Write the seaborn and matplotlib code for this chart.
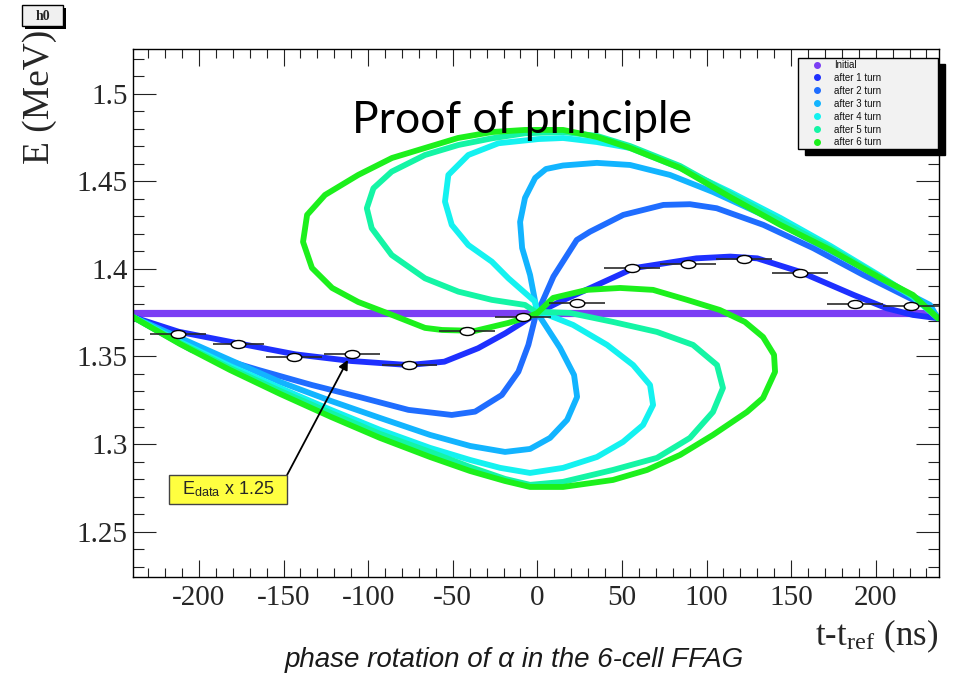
import matplotlib
matplotlib.use("Agg")
import numpy as np
import pandas as pd
import matplotlib.pyplot as plt
import seaborn as sns
from matplotlib.path import Path
from matplotlib.transforms import Affine2D
from matplotlib.lines import Line2D
from matplotlib.patches import Rectangle
from matplotlib.ticker import MultipleLocator, FuncFormatter

# ---------------- data: t - t_ref (ns) and E (MeV) ----------------
series_names = ["Initial", "after 1 turn", "after 2 turn", "after 3 turn",
                "after 4 turn", "after 5 turn", "after 6 turn"]
series_colors = ["#7b3ef4", "#1e30ff", "#1f6dff", "#12b4ff",
                 "#14f2f0", "#14f5a5", "#1cf01c"]

t_init = [-239.0, 232.0]
E_init = [1.375, 1.375]

t_turn1 = [-239.0, -212.0, -177.0, -143.0, -110.0, -76.0, -55.0, -35.0, -19.0, -4.3, 0.0,
           13.4, 33.0, 57.0, 94.0, 114.0, 130.0, 155.0, 187.0, 206.5, 222.0, 236.8]
E_turn1 = [1.3725, 1.3641, 1.3575, 1.3512, 1.3474, 1.3451, 1.3470, 1.3547, 1.3632, 1.3721, 1.3748,
           1.3813, 1.3898, 1.4004, 1.4060, 1.4070, 1.4060, 1.3984, 1.3851, 1.3775, 1.3737, 1.3718]

t_turn2 = [-239.0, -204.3, -164.9, -133.3, -105.8, -76.2, -50.6, -36.8, -21.0, -11.2, -5.3, -1.4, 0.0,
           9.5, 23.3, 31.1, 50.8, 74.5, 90.2, 106.0, 133.6, 163.1, 192.7, 212.4, 232.1, 236.8]
E_turn2 = [1.3725, 1.3537, 1.3423, 1.3337, 1.3270, 1.3195, 1.3166, 1.3185, 1.3280, 1.3413, 1.3566, 1.3718, 1.3748,
           1.3956, 1.4165, 1.4212, 1.4308, 1.4365, 1.4369, 1.4346, 1.4251, 1.4118, 1.3965, 1.3870, 1.3775, 1.3718]

t_turn3 = [-239.0, -211.2, -181.7, -152.0, -122.0, -93.0, -63.4, -39.7, -19.1, -4.3, 7.5, 17.6, 23.5,
           21.7, 13.4, 4.6, 0.0,
           -4.3, -9.0, -10.2, -7.3, -1.3, 5.1, 15.2, 35.2, 54.8, 78.4, 103.8, 133.4, 163.1, 192.5,
           212.6, 232.1, 236.8]
E_turn3 = [1.3725, 1.3606, 1.3480, 1.3354, 1.3246, 1.3149, 1.3052, 1.2989, 1.2955, 1.2972, 1.3035, 1.3138, 1.3269,
           1.3394, 1.3549, 1.3680, 1.3748,
           1.3965, 1.4119, 1.4268, 1.4405, 1.4519, 1.4570, 1.4590, 1.4605, 1.4593, 1.4536, 1.4439, 1.4308, 1.4154, 1.4005,
           1.3891, 1.3794, 1.3718]

t_turn4 = [-239.0, -211.2, -181.7, -152.0, -122.0, -93.0, -63.4, -39.7, -22.0, -4.3, 15.2, 35.2, 50.6,
           62.5, 68.4, 66.6, 56.6, 41.2, 21.1, 3.4, 0.0,
           -1.4, -17.1, -26.9, -40.8, -50.6, -54.6, -52.6, -40.8, -23.0, 0.6, 15.2, 35.2, 54.8,
           84.4, 113.9, 143.6, 173.2, 202.6, 222.0, 236.8]
E_turn4 = [1.3725, 1.3583, 1.3446, 1.3320, 1.3195, 1.3081, 1.2978, 1.2909, 1.2864, 1.2835, 1.2864, 1.2926, 1.3012,
           1.3109, 1.3223, 1.3337, 1.3451, 1.3566, 1.3680, 1.3748, 1.3748,
           1.3813, 1.3946, 1.4041, 1.4136, 1.4251, 1.4384, 1.4536, 1.4650, 1.4717, 1.4741, 1.4747, 1.4724, 1.4690,
           1.4576, 1.4439, 1.4291, 1.4131, 1.3960, 1.3840, 1.3718]

t_turn5 = [-239.0, -211.2, -181.7, -152.0, -122.0, -93.0, -63.4, -39.7, -19.1, -4.3, 15.2, 44.7, 70.7,
           90.2, 103.8, 109.7, 106.2, 92.0, 70.7, 44.7, 19.4, 3.4, 0.0,
           -7.3, -26.9, -46.7, -66.4, -86.1, -97.9, -100.8, -96.9, -86.1, -66.4, -46.7, -26.9, -7.3,
           15.2, 35.2, 54.8, 84.4, 113.9, 143.6, 173.2, 202.6, 222.0, 236.8]
E_turn5 = [1.3725, 1.3577, 1.3434, 1.3303, 1.3177, 1.3058, 1.2955, 1.2869, 1.2801, 1.2767, 1.2784, 1.2852, 1.2921,
           1.3035, 1.3183, 1.3320, 1.3451, 1.3566, 1.3640, 1.3697, 1.3748, 1.3754, 1.3748,
           1.3794, 1.3823, 1.3870, 1.3946, 1.4079, 1.4232, 1.4346, 1.4460, 1.4555, 1.4650, 1.4707, 1.4745, 1.4774,
           1.4781, 1.4759, 1.4701, 1.4587, 1.4428, 1.4273, 1.4119, 1.3954, 1.3845, 1.3718]

t_turn6 = [-239.0, -211.2, -181.7, -152.0, -122.0, -93.0, -63.4, -39.7, -19.1, -4.3, 15.2, 44.7, 64.8,
           84.4, 103.8, 123.9, 133.4, 140.5, 139.9, 133.4, 122.7, 107.9, 88.5, 68.4, 48.9, 29.4, 9.3, 0.0,
           -5.5, -17.3, -36.8, -56.3, -66.4, -85.9, -105.9, -121.3, -133.2, -138.5, -136.1, -125.5, -105.9,
           -85.9, -66.4, -46.9, -26.8, -7.3, 15.2, 35.2, 54.8, 84.4, 113.9, 143.6, 173.2, 202.6, 222.0, 236.8]
E_turn6 = [1.3725, 1.3571, 1.3423, 1.3286, 1.3155, 1.3035, 1.2926, 1.2846, 1.2789, 1.2755, 1.2755, 1.2795, 1.2852,
           1.2938, 1.3052, 1.3183, 1.3263, 1.3412, 1.3509, 1.3611, 1.3697, 1.3765, 1.3823, 1.3880, 1.3891, 1.3880, 1.3834, 1.3748,
           1.3725, 1.3691, 1.3646, 1.3651, 1.3663, 1.3737, 1.3811, 1.3891, 1.4005, 1.4154, 1.4308, 1.4422, 1.4536,
           1.4633, 1.4690, 1.4747, 1.4781, 1.4793, 1.4793, 1.4753, 1.4690, 1.4576, 1.4410, 1.4251, 1.4108, 1.3948, 1.3851, 1.3718]

# measured points (energy scaled by 1.25) with horizontal bin widths
t_data = [-212.2, -176.7, -143.6, -109.7, -75.6, -41.7, -8.3, 23.3, 56.1, 88.9, 122.2, 155.3, 187.8, 220.9]
E_data = [1.3628, 1.3569, 1.3495, 1.3512, 1.3453, 1.3645, 1.3727, 1.3803, 1.4006, 1.4028, 1.4058, 1.3978, 1.3797, 1.3788]
t_data_err = [16.5, 15.0, 16.5, 16.5, 16.5, 16.5, 16.5, 16.5, 16.5, 16.5, 16.5, 16.5, 16.5, 16.5]

x_ticks_major = 50
y_ticks_major = 0.05

# ---------------- figure ----------------
W, H = 968, 676


def fx(px):
    return px / W


def fy(py):
    return 1 - py / H


sns.set_theme(style="ticks")
plt.rcParams["font.family"] = ["Liberation Serif", "DejaVu Serif"]
plt.rcParams["axes.unicode_minus"] = False
plt.rcParams["mathtext.fontset"] = "stix"

fig = plt.figure(figsize=(W / 100, H / 100), dpi=100)
fig.patch.set_facecolor("white")
ax = fig.add_axes([fx(133), fy(577), fx(939) - fx(133), fy(49) - fy(577)])
ax.set_facecolor("white")

frames = []
all_t = [t_init, t_turn1, t_turn2, t_turn3, t_turn4, t_turn5, t_turn6]
all_E = [E_init, E_turn1, E_turn2, E_turn3, E_turn4, E_turn5, E_turn6]
for name, tt, ee in zip(series_names, all_t, all_E):
    frames.append(pd.DataFrame({"t": tt, "E": ee, "series": name}))
df = pd.concat(frames, ignore_index=True)

sns.lineplot(data=df, x="t", y="E", hue="series", hue_order=series_names,
             palette=series_colors, sort=False, estimator=None, linewidth=4.2,
             legend=False, ax=ax, solid_capstyle="round", solid_joinstyle="round")
ax.lines[0].set_linewidth(5.2)

# open elliptical markers with horizontal error bars
ellipse = Affine2D().scale(1.0, 0.55).transform_path(Path.unit_circle())
ax.errorbar(t_data, E_data, xerr=t_data_err, fmt="none", ecolor="#2a2a2a",
            elinewidth=1.2, capsize=0, zorder=5, clip_on=False)
ax.plot(t_data, E_data, ls="none", marker=ellipse, ms=10.5, mfc="white",
        mec="black", mew=1.0, zorder=6)

ax.set_xlim(-239.0, 237.4)
ax.set_ylim(1.2241, 1.5255)
ax.set_xlabel("")
ax.set_ylabel("")

ax.xaxis.set_major_locator(MultipleLocator(x_ticks_major))
ax.xaxis.set_minor_locator(MultipleLocator(10))
ax.yaxis.set_major_locator(MultipleLocator(y_ticks_major))
ax.yaxis.set_minor_locator(MultipleLocator(0.01))
ax.yaxis.set_major_formatter(FuncFormatter(lambda v, _: f"{round(v, 3):g}"))
ax.xaxis.set_major_formatter(FuncFormatter(lambda v, _: f"{int(round(v))}"))

ax.tick_params(which="both", direction="in", top=True, right=True,
               labeltop=False, labelright=False, color="#222222", width=0.8)
ax.tick_params(axis="y", which="major", length=16.5, pad=4, labelsize=21)
ax.tick_params(axis="y", which="minor", length=8)
ax.tick_params(axis="x", which="major", length=12.5, pad=6, labelsize=21)
ax.tick_params(axis="x", which="minor", length=6.5)
for sp in ax.spines.values():
    sp.set_color("black")
    sp.set_linewidth(1.0)

# axis titles
fig.text(fx(40), fy(97), "E (MeV)", rotation=90, ha="center", va="center",
         fontsize=27, family="Liberation Serif")
fig.text(fx(938), fy(645), r"t-t$_\mathregular{ref}$ (ns)", ha="right", va="baseline",
         fontsize=25, family="Liberation Serif")
fig.text(fx(514), fy(660), "phase rotation of α in the 6-cell FFAG", ha="center",
         va="center", fontsize=20, style="italic", family="Liberation Sans", color="#1a1a1a")
fig.text(fx(522), fy(133), "Proof of principle", ha="center", va="baseline",
         fontsize=32, family="Lato", color="black")

# histogram name box
fig.add_artist(Rectangle((fx(25), fy(29)), fx(41), fy(8) - fy(29), transform=fig.transFigure,
                         facecolor="black", edgecolor="black", lw=0))
fig.add_artist(Rectangle((fx(22), fy(26)), fx(41), fy(5) - fy(26), transform=fig.transFigure,
                         facecolor="#f0f0f0", edgecolor="black", lw=1.0))
fig.text(fx(42.5), fy(16), "h0", ha="center", va="center", fontsize=10,
         family="Liberation Serif", weight="bold")

# legend
handles = [Line2D([0], [0], marker="o", ls="none", color=c, markersize=4)
           for c in series_colors]
leg = ax.legend(handles, series_names, loc="upper left",
                bbox_to_anchor=(fx(798), fy(152), fx(140), fy(58) - fy(152)),
                bbox_transform=fig.transFigure, mode="expand",
                prop={"family": "Liberation Sans", "size": 7}, labelcolor="#111111",
                frameon=True, fancybox=False, framealpha=1, borderpad=0.2,
                labelspacing=0.3, handlelength=3.6, handletextpad=-0.1,
                borderaxespad=0,
                shadow={"ox": 5, "oy": -4, "facecolor": "black",
                        "edgecolor": "black", "alpha": 1})
leg.get_frame().set_edgecolor("black")
leg.get_frame().set_facecolor("#f2f2f2")
leg.get_frame().set_linewidth(1.0)

# annotation box with arrow
ax.annotate("", xy=(-112.0, 1.3480), xytext=(-147.9, 1.2824),
            arrowprops=dict(arrowstyle="-|>", color="black", lw=1.3,
                            mutation_scale=14, shrinkA=0, shrinkB=0), zorder=7)
fig.add_artist(Rectangle((fx(169), fy(504)), fx(118), fy(475) - fy(504),
                         transform=fig.transFigure, facecolor="#ffff40",
                         edgecolor="#444444", lw=1.0, zorder=8))
fig.text(fx(228), fy(489.5), r"E$_\mathregular{data}$ x 1.25", ha="center", va="center",
         fontsize=13, family="Liberation Sans", zorder=9)

fig.savefig("out.png", dpi=100, facecolor="white")
